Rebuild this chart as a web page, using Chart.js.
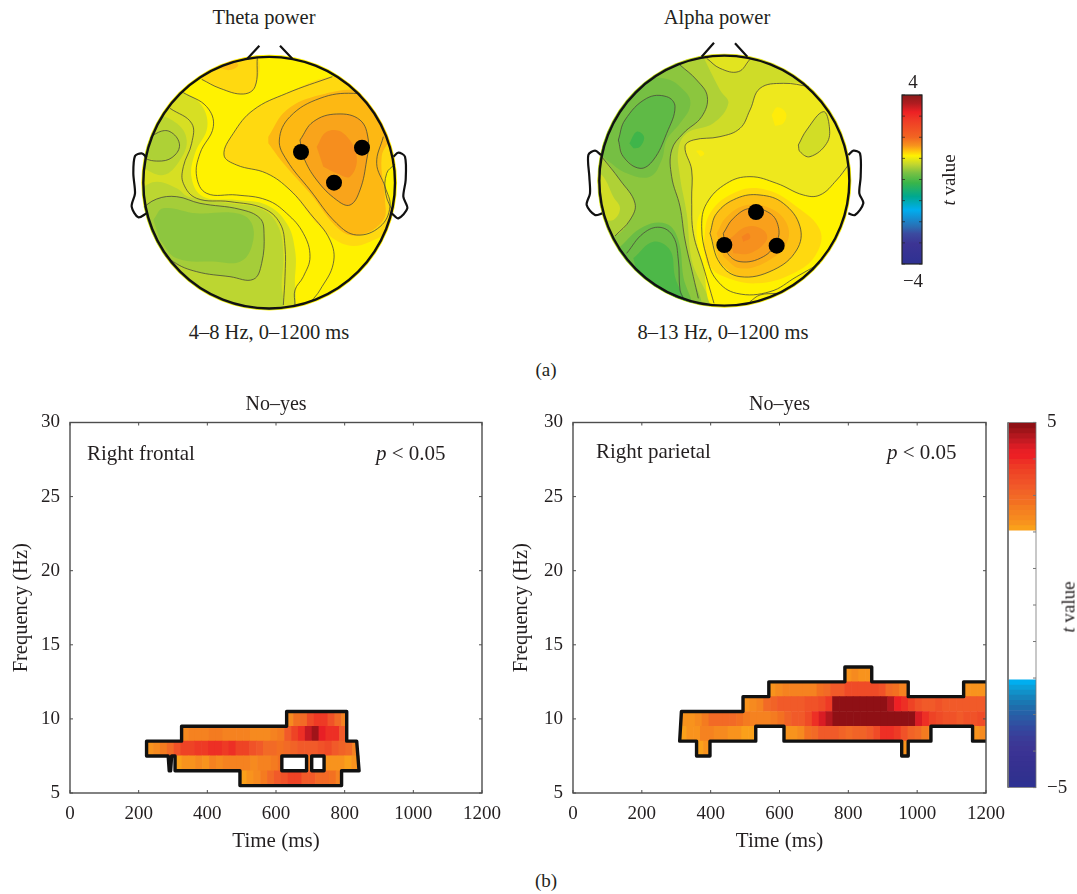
<!DOCTYPE html>
<html>
<head>
<meta charset="utf-8">
<script src="https://cdn.jsdelivr.net/npm/chart.js@4/dist/chart.umd.js"></script>
<style>
html,body{margin:0;padding:0;background:#fff;}
#page{position:relative;width:1077px;height:894px;overflow:hidden;font-family:"Liberation Serif",serif;color:#231f20;}
canvas{position:absolute;display:block;}
.t{position:absolute;white-space:nowrap;transform:translate(-50%,-50%);font-size:20.5px;line-height:1;}
.l{transform:translate(0,-50%);}
.r{transform:translate(-50%,-50%) rotate(-90deg);}
</style>
</head>
<body>
<div id="page">
  <canvas id="theta" width="292" height="274" style="left:124px;top:38px"></canvas>
  <canvas id="alpha" width="292" height="274" style="left:574px;top:38px"></canvas>
  <canvas id="cbSmall" width="36" height="180" style="left:896px;top:90px"></canvas>
  <canvas id="frontal" width="511" height="465" style="left:0;top:390px"></canvas>
  <canvas id="parietal" width="515" height="465" style="left:500px;top:390px"></canvas>
  <canvas id="cbLarge" width="77" height="410" style="left:1000px;top:400px"></canvas>

  <div class="t" style="left:264px;top:17px">Theta power</div>
  <div class="t" style="left:717px;top:17px">Alpha power</div>
  <div class="t" style="left:269px;top:332px">4–8 Hz, 0–1200 ms</div>
  <div class="t" style="left:723px;top:332px">8–13 Hz, 0–1200 ms</div>
  <div class="t" style="left:913px;top:81px;font-size:19px">4</div>
  <div class="t" style="left:913px;top:280px;font-size:19px">−4</div>
  <div class="t r" style="left:948px;top:180px;font-size:19px"><i>t</i> value</div>
  <div class="t" style="left:546px;top:369px;font-size:19px">(a)</div>
  <div class="t l" style="left:87px;top:453px;font-size:21px">Right frontal</div>
  <div class="t l" style="left:376px;top:453px;font-size:21px"><i>p</i> &lt; 0.05</div>
  <div class="t l" style="left:596px;top:451px;font-size:21px">Right parietal</div>
  <div class="t l" style="left:887px;top:452px;font-size:21px"><i>p</i> &lt; 0.05</div>
  <div class="t r" style="left:1068px;top:607px;font-size:19px"><i>t</i> value</div>
  <div class="t" style="left:546px;top:880px;font-size:19px">(b)</div>
</div>
<script>
// ---------- time-frequency data (t values per 20 ms column) ----------
const timeTicksMax = 1200, freqMin = 5, freqMax = 30;
const cellMs = 20;
const frontal10  = [2.4,2.8,3.0,3.5,3.8,3.8,3.4,3.0,2.6];
const frontal9   = [2.4,2.5,2.6,2.6,2.7,2.7,2.6,2.6,2.5,2.5,2.4,2.4,2.4,2.5,2.7,3.2,3.7,3.9,4.5,4.8,4.2,4.0,4.0,3.2,2.8];
const frontal8   = [2.2,2.4,2.7,3.0,3.4,3.6,3.7,3.8,3.8,3.9,3.9,3.8,3.9,3.7,3.6,3.4,3.2,3.0,2.9,2.8,2.9,3.1,3.2,3.3,3.2,3.4,3.5,3.3,3.1,2.9,2.6,2.4];
const frontal7a  = [2.1,2.3,2.2,2.4,2.3,2.5,2.4,2.5,2.6,2.5,2.5,2.4,2.5,2.6,2.7,2.8];
const frontal7b  = [2.7];
const frontal7c  = [2.3,2.2,2.3,2.1,2.2,2.1];
const frontal6   = [2.1,2.2,2.4,2.7,3.0,3.2,3.4,3.6,3.6,3.3,3.2,3.0,3.0,2.8,2.6];
const parietal13 = [2.2,2.4,2.3,2.2];
const parietal12a= [2.3,2.4,2.6,2.5,2.6,2.5,2.6,2.8,3.0,3.2,3.3,3.5,3.5,3.5,3.5,3.5,3.4,3.0,2.8,2.6,2.4];
const parietal12b= [2.3,2.3,2.2];
const parietal11 = [2.3,2.4,2.6,2.9,3.1,3.2,3.2,3.3,3.3,3.4,3.4,3.5,3.8,4.9,5,5,5,5,5,5,5,4.7,4.1,3.9,3.6,3.4,3.3,3.3,3.4,3.3,3.2,3.3,3.3,3.2,3.3,3.3];
const parietal10 = [2.2,2.3,2.4,2.7,2.9,3.0,3.0,2.9,2.8,2.7,2.6,2.6,2.6,2.7,2.8,3.1,3.2,3.3,3.5,3.9,4.3,4.6,4.9,5,5,5,5,5,5,5,5,5,5,4.9,4.4,4.0,3.7,3.5,3.4,3.4,3.3,3.4,3.4,3.5,3.4];
const parietal9a = [2.1,2.3,2.3,2.5,2.5,2.4,2.4,2.3,2.3,2.1,2.1,2.1];
const parietal9b = [2.2,2.2,2.4,2.8,3.0,3.2,3.3,3.2,3.1,3.0,3.1,3.1,3.2,3.5,3.9,4.0,3.8,3.4,3.1,2.9,2.7,2.5];
const parietal9c = [2.3,2.4];
const parietal8a = [2.1,2.2];
const parietal8b = [2.2];

// [frequency, first ms, last ms, values]
const frontalRuns = [[10,631,806,frontal10],[9,325,806,frontal9],[8,223,838,frontal8],[7,306,617,frontal7a],[7,689,704,frontal7b],[7,740,842,frontal7c],[6,495,791,frontal6]];
const parietalRuns = [[13,790,868,parietal13],[12,569,974,parietal12a],[12,1135,1200,parietal12b],[11,494,1200,parietal11],[10,315,1200,parietal10],[9,310,531,parietal9a],[9,613,1040,parietal9b],[9,1161,1200,parietal9c],[8,359,398,parietal8a],[8,955,974,parietal8b]];

// cluster outlines [ms, Hz]
const frontalOutline = [[223,8.5],[325,8.5],[325,9.5],[631,9.5],[631,10.5],[806,10.5],[806,8.5],[835,8.5],[842,6.5],[791,6.5],[791,5.5],[495,5.5],[495,6.5],[306,6.5],[306,7.5],[296,7.5],[293,6.5],[289,6.5],[286,7.5],[223,7.5],[223,8.5]];
const frontalHole1 = [[617,7.5],[689,7.5],[689,6.5],[617,6.5],[617,7.5]];
const frontalHole2 = [[704,7.5],[740,7.5],[740,6.5],[704,6.5],[704,7.5]];
const parietalOutline = [[1200,12.5],[1135,12.5],[1135,11.5],[974,11.5],[974,12.5],[868,12.5],[868,13.5],[790,13.5],[790,12.5],[569,12.5],[569,11.5],[494,11.5],[494,10.5],[315,10.5],[310,8.5],[359,8.5],[359,7.5],[398,7.5],[398,8.5],[531,8.5],[531,9.5],[613,9.5],[613,8.5],[955,8.5],[955,7.5],[974,7.5],[974,8.5],[1040,8.5],[1040,9.5],[1161,9.5],[1161,8.5],[1200,8.5]];

// ---------- colour scale of panel (b) ----------
const tStart = 2.05, tStep = 0.14;
const hotColors = ['#faa01a','#f8931d','#f68a1f','#f58220','#f47b20','#f37021','#f26a26','#f16327','#f15a29','#f05228','#ef4b27','#ee4325','#ee3a25','#ed2f25','#ed2024','#e81f25','#d91c24','#c51a22','#b3171e','#a01419','#8f1015'];
const coldColors = ['#00aeef','#0a9fd9','#1191c9','#1683bc','#1a77b2','#1f6cab','#2562a8','#2b5aa5','#2f52a2','#33499f','#37429c','#3a3c98','#3b3896','#3c3594','#3a3394','#383292','#363191','#343190','#32318f','#30318f','#2e3192'];
const hotColor = t => hotColors[Math.max(0, Math.min(hotColors.length - 1, Math.floor((t - tStart) / tStep)))];

// ---------- colour scale of panel (a) ----------
const topoStops = [[0,'#8b1a1a'],[.05,'#b01c20'],[.1,'#ed2024'],[.15,'#ef3b26'],[.25,'#f26522'],[.3,'#f7941d'],[.33,'#ffc20e'],[.36,'#fff200'],[.41,'#c2d62f'],[.46,'#7ac143'],[.52,'#39b54a'],[.6,'#00a88f'],[.68,'#00aeef'],[.78,'#2a6db3'],[.82,'#3b4ba0'],[.88,'#3c3494'],[1,'#2e3192']];

// ---------- scalp maps, in map units ----------
const mapX = [12, 888], mapY = [114, 936];
const thetaElectrodes = [[543,456],[726,443],[642,548]];
const alphaElectrodes = [[558,636],[463,735],[620,737]];
const thetaEarL = [[80,472],[65,460],[45,468],[40,520],[45,580],[35,620],[55,652],[80,640]];
const thetaEarR = [[820,470],[835,458],[855,470],[857,540],[850,590],[862,625],[835,655],[815,640]];
const thetaNoseL = [[382,176],[418,137]], thetaNoseR = [[480,137],[517,176]];
const alphaEarL = [[93,465],[75,452],[55,465],[58,530],[60,580],[50,615],[75,645],[97,640]];
const alphaEarR = [[835,465],[850,452],[870,460],[872,530],[868,580],[880,610],[855,645],[835,640]];
const alphaNoseL = [[395,170],[432,128]], alphaNoseR = [[495,130],[532,170]];

const thetaGreen1 = [[170,265],[240,310],[262,380],[225,460],[215,535],[250,590],[350,600],[440,615],[500,670],[525,750],[525,830],[510,935],[300,935],[40,800],[40,400],[120,280]];
const thetaGreen2 = [[60,565],[110,545],[170,565],[205,590],[330,610],[430,630],[475,680],[490,760],[485,850],[480,935],[300,935],[40,800]];
const thetaGreen2b = [[60,400],[110,350],[170,370],[200,420],[180,480],[130,525],[60,500]];
const thetaGreen3 = [[60,630],[110,597],[170,590],[240,610],[360,628],[420,655],[432,700],[425,790],[400,838],[330,830],[230,815],[160,785],[60,700]];
const thetaGreen4 = [[100,660],[130,625],[230,640],[350,640],[395,670],[395,740],[360,785],[290,785],[170,775],[120,720]];
const thetaSpot = [[70,430],[115,397],[150,395],[178,430],[165,465],[125,483],[70,470]];
const thetaGold = [[760,260],[637,230],[500,280],[400,330],[340,400],[312,465],[350,495],[440,520],[510,570],[600,680],[680,735],[750,725],[810,680],[808,600],[795,530],[830,470],[840,400]];
const thetaTop = [[245,238],[300,265],[370,282],[405,260],[412,170],[330,150],[250,190]];
const thetaTopCore = [[300,205],[330,210],[355,195],[330,180]];
const thetaAmber = [[445,410],[500,330],[600,285],[720,270],[790,300],[815,400],[785,470],[795,600],[790,660],[720,705],[660,690],[570,580],[490,490],[445,430]];
const thetaOrange = [[540,420],[580,365],[650,342],[720,360],[745,420],[740,480],[720,570],[690,615],[650,600],[590,540],[550,470]];
const thetaCore = [[590,440],[620,395],[670,400],[710,470],[690,530],[650,520],[610,500]];

const thetaLine1 = [[190,278],[260,320],[280,380],[240,460],[230,530],[260,580],[350,585],[440,600],[500,640],[550,700],[570,770],[550,830],[525,870],[525,915]];
const thetaLine2 = [[150,325],[215,370],[215,430],[190,500],[190,550],[230,595],[330,605],[430,625],[480,670],[495,740],[495,830],[490,915]];
const thetaLine3 = [[573,905],[600,870],[640,790],[630,720],[570,640],[510,570],[440,520],[350,495],[312,465],[340,400],[400,330],[500,280],[637,230]];
const thetaLine4 = [[790,300],[700,280],[600,295],[510,350],[478,420],[500,480],[570,570],[650,670],[710,705],[780,680],[810,620],[795,560],[770,490],[790,410]];
const thetaLine5 = [[825,492],[800,520],[797,580],[820,640]];
const thetaLine6 = [[245,238],[300,265],[370,282],[405,260],[412,172]];

const alphaLime1 = [[760,250],[640,250],[570,265],[540,330],[510,385],[450,410],[370,420],[345,440],[365,510],[365,600],[370,700],[400,800],[432,930],[100,930],[40,600],[60,300],[300,120],[760,120]];
const alphaTop = [[410,170],[450,205],[505,215],[540,172],[480,150]];
const alphaLime2 = [[380,130],[450,270],[475,310],[430,370],[350,400],[325,450],[330,530],[350,640],[365,780],[410,930],[100,930],[40,600],[60,300],[250,120]];
const alphaGreen1 = [[330,195],[380,240],[412,290],[395,350],[340,400],[305,450],[305,530],[330,620],[345,720],[370,830],[385,930],[100,930],[40,600],[60,300],[250,130]];
const alphaPale1 = [[70,455],[95,470],[150,540],[195,610],[180,660],[135,708],[60,720]];
const alphaPale2 = [[70,510],[100,530],[130,590],[150,625],[130,660],[95,655],[70,640]];
const alphaGreen2 = [[80,450],[110,370],[180,260],[280,235],[350,280],[360,320],[330,370],[290,420],[275,480],[240,530],[170,520],[110,480]];
const alphaGreen3 = [[145,420],[165,360],[230,295],[290,290],[315,320],[290,400],[250,480],[210,505],[160,470]];
const alphaGreen4 = [[178,430],[200,395],[222,410],[210,440],[190,445]];
const alphaGreen5 = [[145,745],[220,680],[290,672],[325,720],[340,830],[360,930],[200,930],[130,780]];
const alphaGreen6 = [[190,775],[250,725],[300,750],[315,830],[345,930],[230,930]];
const alphaSpot = [[685,435],[710,390],[760,335],[778,380],[770,430],[720,470],[690,455]];
const alphaBright = [[860,480],[800,540],[750,585],[700,585],[620,550],[540,530],[470,550],[410,610],[380,680],[400,800],[440,930],[650,930],[800,830],[870,650]];
const alphaFleck1 = [[605,345],[622,322],[648,340],[640,370],[615,378]];
const alphaFleck2 = [[378,452],[395,452],[403,462],[392,470]];
const alphaGold1 = [[400,740],[420,640],[500,575],[590,570],[680,620],[750,690],[740,760],[680,815],[560,850],[450,825],[410,790]];
const alphaGold2 = [[420,700],[440,640],[500,595],[570,585],[640,610],[690,680],[680,750],[610,810],[510,830],[450,790]];
const alphaGold3 = [[440,700],[470,650],[530,615],[600,625],[650,670],[650,730],[590,785],[510,805],[460,770]];
const alphaOrange = [[460,700],[490,655],[540,625],[600,640],[625,680],[620,725],[580,770],[510,785],[470,755]];
const alphaCore = [[480,715],[530,680],[580,690],[590,720],[540,760],[490,760]];
const alphaCore2 = [[515,710],[535,700],[540,715],[520,725]];

const alphaLineTop = [[410,175],[450,205],[505,215],[540,178]];
const alphaLineB = [[330,195],[380,240],[412,290],[395,350],[340,400],[305,450],[305,530],[330,620],[345,720],[370,830],[385,895]];
const alphaLineC = [[720,260],[640,250],[570,265],[540,330],[510,385],[450,410],[370,420],[345,440],[365,510],[365,600],[370,700],[400,800],[432,910]];
const alphaLineD = [[835,495],[800,540],[750,585],[700,585],[620,550],[540,530],[470,550],[410,610],[395,680],[410,770],[440,840],[500,880],[600,875],[680,830],[750,790]];
const alphaLineLeft = [[95,470],[150,540],[195,610],[180,660],[135,708]];
const alphaLineLow = [[170,760],[220,700],[270,682],[310,710],[325,780],[330,870],[340,895]];
const alphaLineBottom = [[540,905],[570,885],[620,880]];

// ---------- helpers ----------
const pts = a => a.map(([x, y]) => ({x, y}));
const loop = a => a.concat([a[0]]);
const area = (a, color) => ({type:'scatter',data:pts(a),showLine:true,tension:.4,capBezierPoints:false,pointRadius:0,borderWidth:0,borderColor:'transparent',areaColor:color,headClip:true});
const contour = a => ({type:'scatter',data:pts(a),showLine:true,tension:.4,capBezierPoints:false,pointRadius:0,borderWidth:.8,borderColor:'#4a4a3c',headClip:true});
const outlineHead = a => ({type:'scatter',data:pts(a),showLine:true,tension:.3,capBezierPoints:false,pointRadius:0,borderWidth:2.2,borderColor:'#111'});
const dots = a => ({type:'scatter',data:pts(a),showLine:false,pointRadius:8,pointBackgroundColor:'#000',pointBorderWidth:0});
const ordered = list => list.map((d, i) => Object.assign(d, {order: list.length - i}));

const headPlugin = {
  id:'head',
  geom(chart){
    const o = chart.options.plugins.head, sx = chart.scales.x, sy = chart.scales.y;
    return {x:sx.getPixelForValue(o.cx), y:sy.getPixelForValue(o.cy), r:sx.getPixelForValue(o.cx + o.r) - sx.getPixelForValue(o.cx), base:o.base};
  },
  beforeDatasetsDraw(chart){
    const g = this.geom(chart), c = chart.ctx;
    c.save(); c.beginPath(); c.arc(g.x, g.y, g.r + 2, 0, 7); c.fillStyle = g.base; c.fill(); c.restore();
  },
  beforeDatasetDraw(chart, args){
    const ds = chart.data.datasets[args.index];
    if (!ds.headClip) return;
    const g = this.geom(chart), c = chart.ctx;
    c.save(); c.beginPath(); c.arc(g.x, g.y, g.r + 1.5, 0, 7); c.clip();
    if (ds.areaColor) {
      const line = args.meta.dataset;
      line.updateControlPoints(chart.chartArea, args.meta.indexAxis || 'x');
      c.beginPath(); line.path(c); c.closePath();
      c.fillStyle = ds.areaColor; c.fill();
    }
  },
  afterDatasetDraw(chart, args){
    if (chart.data.datasets[args.index].headClip) chart.ctx.restore();
  },
  afterDatasetsDraw(chart){
    const g = this.geom(chart), c = chart.ctx;
    c.save(); c.beginPath(); c.arc(g.x, g.y, g.r, 0, 7); c.lineWidth = 2.4; c.strokeStyle = '#111'; c.stroke(); c.restore();
  }
};

const framePlugin = {
  id:'frame',
  afterDraw(chart){
    const o = chart.options.plugins.frame, a = chart.chartArea, c = chart.ctx;
    c.save(); c.strokeStyle = o.color; c.lineWidth = o.tickWidth;
    c.beginPath();
    if (o.xTicks) chart.scales.x.ticks.forEach((t, i) => {
      const p = chart.scales.x.getPixelForTick(i);
      c.moveTo(p, a.bottom); c.lineTo(p, a.bottom - 3); c.moveTo(p, a.top); c.lineTo(p, a.top + 3);
    });
    chart.scales.y.ticks.forEach((t, i) => {
      const p = chart.scales.y.getPixelForTick(i);
      if (o.leftTicks) { c.moveTo(a.left, p); c.lineTo(a.left + 3, p); }
      c.moveTo(a.right, p); c.lineTo(a.right - 3, p);
    });
    c.stroke();
    c.lineWidth = o.width; c.strokeRect(a.left, a.top, a.width, a.height);
    if (o.leftWidth) { c.lineWidth = o.leftWidth; c.beginPath(); c.moveTo(a.left, a.top); c.lineTo(a.left, a.bottom); c.stroke(); }
    c.restore();
  }
};

const quiet = {legend:{display:false},tooltip:{enabled:false}};

function topo(id, datasets, head){
  new Chart(document.getElementById(id), {
    type:'scatter',
    data:{datasets:ordered(datasets)},
    plugins:[headPlugin],
    options:{
      responsive:false,animation:false,events:[],
      layout:{padding:0,autoPadding:false},
      plugins:Object.assign({head},quiet),
      scales:{
        x:{type:'linear',display:false,min:mapX[0],max:mapX[1]},
        y:{type:'linear',display:false,reverse:true,min:mapY[0],max:mapY[1]}
      }
    }
  });
}

topo('theta', [
  area(thetaGreen1,'#d7df23'), area(thetaGreen2,'#bcd631'), area(thetaGreen2b,'#bcd631'),
  area(thetaGreen3,'#a5cd39'), area(thetaGreen4,'#8dc63f'), area(thetaSpot,'#aed136'),
  area(thetaGold,'#ffd910'), area(thetaTop,'#ffd910'), area(thetaTopCore,'#fdbf14'),
  area(thetaAmber,'#fdb813'), area(thetaOrange,'#f9a41b'), area(thetaCore,'#f68e1e'),
  contour(thetaLine1), contour(thetaLine2), contour(thetaLine3), contour(thetaLine4), contour(thetaLine5), contour(thetaLine6),
  contour(loop(thetaOrange)), contour(loop(thetaSpot)), contour(loop(thetaGreen3)),
  outlineHead(thetaEarL), outlineHead(thetaEarR), outlineHead(thetaNoseL), outlineHead(thetaNoseR),
  dots(thetaElectrodes)
], {cx:447.5, cy:548, r:377.5, base:'#fff200'});

topo('alpha', [
  area(alphaLime1,'#cfdc28'), area(alphaTop,'#e2e41f'), area(alphaLime2,'#afd136'), area(alphaGreen1,'#8cc63e'),
  area(alphaPale1,'#afd136'), area(alphaPale2,'#d2dd26'),
  area(alphaGreen2,'#76bf43'), area(alphaGreen3,'#5fba46'), area(alphaGreen4,'#3fb54a'),
  area(alphaGreen5,'#6bbd45'), area(alphaGreen6,'#4db848'),
  area(alphaSpot,'#d2dd26'), area(alphaBright,'#fff200'), area(alphaFleck1,'#ffec0a'), area(alphaFleck2,'#ffec0a'),
  area(alphaGold1,'#ffd90f'), area(alphaGold2,'#fdc014'), area(alphaGold3,'#fbaf17'), area(alphaOrange,'#f9a01b'),
  area(alphaCore,'#f6901e'), area(alphaCore2,'#f58220'),
  contour(alphaLineTop), contour(alphaLineB), contour(alphaLineC), contour(alphaLineD), contour(alphaLineLeft), contour(alphaLineLow), contour(alphaLineBottom),
  contour(loop(alphaGold2)), contour(loop(alphaOrange)), contour(loop(alphaSpot)), contour(loop(alphaGreen3)),
  outlineHead(alphaEarL), outlineHead(alphaEarR), outlineHead(alphaNoseL), outlineHead(alphaNoseR),
  dots(alphaElectrodes)
], {cx:463, cy:542, r:375, base:'#eee81d'});

function heat(id, runs, outlines, leftWidth){
  const cells = [], colors = [];
  runs.forEach(([hz, start, end, values]) => values.forEach((v, i) => {
    const a = start + i * cellMs;
    const b = i === values.length - 1 ? end : Math.min(a + cellMs, end);
    if (a < end) { cells.push({x:[a, b], y:hz}); colors.push(hotColor(v)); }
  }));
  const serif = s => ({family:'"Liberation Serif", serif', size:s});
  new Chart(document.getElementById(id), {
    type:'scatter',
    data:{datasets:[
      {type:'bar',indexAxis:'y',data:cells,backgroundColor:colors,barPercentage:1,categoryPercentage:1,order:2},
      ...outlines.map(o => ({type:'scatter',data:pts(o),showLine:true,tension:0,pointRadius:0,borderColor:'#111',borderWidth:3.4,borderJoinStyle:'round',borderCapStyle:'round',order:1}))
    ]},
    plugins:[framePlugin],
    options:{
      responsive:false,animation:false,events:[],
      layout:{padding:{right:20},autoPadding:false},
      plugins:Object.assign({
        title:{display:true,text:'No–yes',fullSize:false,color:'#231f20',font:Object.assign(serif(20),{weight:'normal'}),padding:{top:3,bottom:5.5}},
        frame:{color:'#4d4d4d',width:1.4,tickWidth:1,xTicks:true,leftTicks:true}
      },quiet),
      scales:{
        x:{type:'linear',min:0,max:timeTicksMax,position:'bottom',offset:false,
          afterFit:s => { s.height = 62; },
          grid:{display:false,drawTicks:false},border:{display:false},
          ticks:{stepSize:200,padding:10,maxRotation:0,color:'#231f20',font:serif(19),callback:v => String(v)},
          title:{display:true,text:'Time (ms)',color:'#231f20',font:serif(21),padding:{top:0,bottom:1}}},
        y:{type:'linear',min:freqMin,max:freqMax,position:'left',offset:false,
          afterFit:s => { s.width = leftWidth; },
          grid:{display:false,drawTicks:false},border:{display:false},
          ticks:{stepSize:5,padding:10,color:'#231f20',font:serif(19)},
          title:{display:true,text:'Frequency (Hz)',color:'#231f20',font:serif(20.5),padding:{top:9,bottom:8}}}
      }
    }
  });
}
heat('frontal', frontalRuns, [frontalOutline, frontalHole1, frontalHole2], 70);
heat('parietal', parietalRuns, [parietalOutline], 73);

// small colour bar
new Chart(document.getElementById('cbSmall'), {
  type:'bar',
  data:{labels:['t'],datasets:[{data:[[-4,4]],barPercentage:1,categoryPercentage:1,
    backgroundColor(ctx){
      const a = ctx.chart.chartArea; if (!a) return '#fff';
      const g = ctx.chart.ctx.createLinearGradient(0, a.top, 0, a.bottom);
      topoStops.forEach(([p, col]) => g.addColorStop(p, col));
      return g;
    }}]},
  plugins:[framePlugin],
  options:{
    responsive:false,animation:false,events:[],
    layout:{padding:{left:6,right:10,top:5,bottom:6},autoPadding:false},
    plugins:Object.assign({frame:{color:'#222',width:1.2,tickWidth:.7,xTicks:false,leftTicks:true}},quiet),
    scales:{x:{type:'category',display:false},y:{type:'linear',display:false,min:-4,max:4,ticks:{stepSize:1}}}
  }
});

// large colour bar
const cbCells = [], cbColors = [];
hotColors.forEach((col, i) => { cbCells.push({x:'t', y:[tStart + i * tStep, tStart + (i + 1) * tStep]}); cbColors.push(col); });
coldColors.forEach((col, i) => { cbCells.push({x:'t', y:[-tStart - (i + 1) * tStep, -tStart - i * tStep]}); cbColors.push(col); });
new Chart(document.getElementById('cbLarge'), {
  type:'bar',
  data:{labels:['t'],datasets:[{data:cbCells,backgroundColor:cbColors,barPercentage:1,categoryPercentage:1}]},
  plugins:[framePlugin],
  options:{
    responsive:false,animation:false,events:[],
    layout:{padding:{left:8,top:22,bottom:18},autoPadding:false},
    plugins:Object.assign({frame:{color:'#777',width:.8,leftWidth:1.8,tickWidth:1,xTicks:false,leftTicks:false}},quiet),
    scales:{
      x:{type:'category',display:false},
      y:{type:'linear',position:'right',min:-5,max:5,
        afterFit:s => { s.width = 41; },
        grid:{display:false,drawTicks:false},border:{display:false},
        ticks:{stepSize:1,padding:11,autoSkip:false,color:'#231f20',font:{family:'"Liberation Serif", serif',size:19},
          callback:v => v === 5 ? '5' : v === -5 ? '−5' : ''}}
    }
  }
});
</script>
</body>
</html>
